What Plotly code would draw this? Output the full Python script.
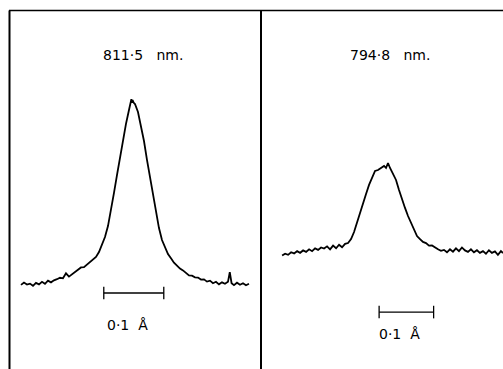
import plotly.graph_objects as go

# ---------------- data ----------------
panel_titles = ["811\u00b75\u00a0\u00a0\u00a0nm.", "794\u00b78\u00a0\u00a0\u00a0nm."]
scale_label = "0\u00b71\u00a0\u00a0\u00c5"
scale_length = 0.1  # Angstrom

# 811.5 nm line profile: wavelength offset (A) and relative intensity
x_811 = [-0.185, -0.180, -0.175, -0.170, -0.165, -0.160, -0.155, -0.150, -0.145, -0.140,
         -0.135, -0.130, -0.125, -0.120, -0.115, -0.110, -0.105, -0.100, -0.095, -0.090,
         -0.085, -0.080, -0.075, -0.070, -0.065, -0.060, -0.055, -0.050, -0.045, -0.040,
         -0.035, -0.030, -0.025, -0.020, -0.015, -0.010, -0.005, -0.002, -0.001, 0.000,
         0.001, 0.003, 0.005, 0.010, 0.015, 0.020, 0.025, 0.030, 0.035, 0.040,
         0.045, 0.050, 0.055, 0.060, 0.065, 0.070, 0.075, 0.080, 0.085, 0.090,
         0.095, 0.100, 0.105, 0.110, 0.115, 0.120, 0.125, 0.130, 0.135, 0.140,
         0.145, 0.150, 0.155, 0.160, 0.163, 0.166, 0.170, 0.175, 0.180, 0.185,
         0.190, 0.195]
y_811 = [-0.005, 0.008, -0.003, 0.002, -0.010, 0.006, -0.002, 0.012, 0.001, 0.018,
         0.009, 0.020, 0.026, 0.034, 0.031, 0.058, 0.040, 0.052, 0.068, 0.078,
         0.090, 0.092, 0.106, 0.118, 0.136, 0.147, 0.174, 0.212, 0.255, 0.315,
         0.397, 0.495, 0.592, 0.690, 0.777, 0.870, 0.946, 0.995, 1.005, 0.984,
         1.000, 0.985, 0.978, 0.935, 0.859, 0.777, 0.674, 0.576, 0.478, 0.391,
         0.304, 0.239, 0.196, 0.163, 0.140, 0.116, 0.100, 0.084, 0.074, 0.058,
         0.047, 0.045, 0.036, 0.035, 0.024, 0.025, 0.013, 0.018, 0.004, 0.012,
         -0.002, 0.009, 0.001, 0.012, 0.065, 0.004, -0.006, 0.007, -0.004, 0.004,
         -0.007, 0.001]

# 794.8 nm line profile
x_794 = [-0.187, -0.1815, -0.176, -0.1705, -0.165, -0.1595, -0.154, -0.1485, -0.143, -0.1375,
         -0.132, -0.1265, -0.121, -0.1155, -0.110, -0.1045, -0.099, -0.0935, -0.088, -0.0825,
         -0.077, -0.0715, -0.066, -0.0605, -0.055, -0.0495, -0.044, -0.0385, -0.033, -0.0275,
         -0.022, -0.0165, -0.011, -0.0055, 0.000, 0.0037, 0.0073, 0.011, 0.0165, 0.022,
         0.0275, 0.033, 0.0385, 0.044, 0.0495, 0.055, 0.0605, 0.066, 0.0715, 0.077,
         0.0825, 0.088, 0.0935, 0.099, 0.1045, 0.110, 0.1155, 0.121, 0.1265, 0.132,
         0.1375, 0.143, 0.1485, 0.154, 0.1595, 0.165, 0.1705, 0.176, 0.1815, 0.187,
         0.1925, 0.198, 0.2035, 0.209, 0.2145, 0.2182]
y_794 = [-0.014, -0.004, -0.010, 0.004, -0.002, 0.010, 0.001, 0.014, 0.006, 0.020,
         0.010, 0.025, 0.017, 0.030, 0.024, 0.036, 0.020, 0.040, 0.026, 0.045,
         0.031, 0.050, 0.054, 0.076, 0.114, 0.168, 0.223, 0.272, 0.321, 0.370,
         0.413, 0.446, 0.451, 0.462, 0.473, 0.462, 0.489, 0.462, 0.429, 0.397,
         0.342, 0.288, 0.245, 0.201, 0.163, 0.125, 0.092, 0.076, 0.060, 0.054,
         0.040, 0.041, 0.028, 0.020, 0.012, 0.017, 0.004, 0.020, 0.007, 0.025,
         0.010, 0.030, 0.014, 0.006, 0.020, 0.004, 0.015, 0.001, 0.010, -0.004,
         0.015, 0.001, 0.009, -0.010, 0.010, 0.000]

# ---------------- layout constants ----------------
W, H = 503, 369
FONT = "DejaVu Sans, Arial, sans-serif"
bar_start = [-0.047, -0.009]
bar_level = [-0.049, -0.321]
label_pos = [(-0.008, -0.225), (0.028, -0.44)]
title_pos = [(0.018, 1.245), (0.011, 1.076)]

fig = go.Figure()

curves = [(x_811, y_811, "x", "y"), (x_794, y_794, "x2", "y2")]
for cx, cy, xa, ya in curves:
    fig.add_trace(go.Scatter(x=cx, y=cy, mode="lines", xaxis=xa, yaxis=ya,
                             line=dict(color="black", width=1.8), hoverinfo="skip",
                             showlegend=False))

for i, (xa, ya) in enumerate([("x", "y"), ("x2", "y2")]):
    x0 = bar_start[i]
    fig.add_trace(go.Scatter(x=[x0, x0 + scale_length], y=[bar_level[i]] * 2,
                             mode="lines+markers", xaxis=xa, yaxis=ya,
                             line=dict(color="black", width=1.3),
                             marker=dict(symbol="line-ns-open", size=9,
                                         line=dict(color="black", width=1.3)),
                             hoverinfo="skip", showlegend=False))
    fig.add_annotation(x=label_pos[i][0], y=label_pos[i][1], xref=xa, yref=ya,
                       text=scale_label, showarrow=False,
                       font=dict(family=FONT, size=14, color="black"))
    fig.add_annotation(x=title_pos[i][0], y=title_pos[i][1], xref=xa, yref=ya,
                       text=panel_titles[i], showarrow=False,
                       font=dict(family=FONT, size=14, color="black"))

ax_common = dict(visible=False, showgrid=False, zeroline=False, fixedrange=True)
fig.update_layout(
    width=W, height=H,
    margin=dict(l=0, r=0, t=0, b=0),
    paper_bgcolor="white", plot_bgcolor="white",
    xaxis=dict(domain=[10 / W, 262 / W], range=[-0.2033, 0.2167], **ax_common),
    yaxis=dict(domain=[0, 1], range=[-0.462, 1.5435], **ax_common),
    xaxis2=dict(domain=[262 / W, 1], range=[-0.2239, 0.2183], anchor="y2", **ax_common),
    yaxis2=dict(domain=[0, 1], range=[-0.6304, 1.375], anchor="x2", **ax_common),
)

# frame lines
top = 1 - 10.5 / H
fig.add_shape(type="line", xref="paper", yref="paper", x0=9 / W, x1=1, y0=top, y1=top,
              line=dict(color="black", width=1.5))
for px in (9.5, 261):
    fig.add_shape(type="line", xref="paper", yref="paper", x0=px / W, x1=px / W,
                  y0=0, y1=top, line=dict(color="black", width=2))

fig.write_html("out.html")
